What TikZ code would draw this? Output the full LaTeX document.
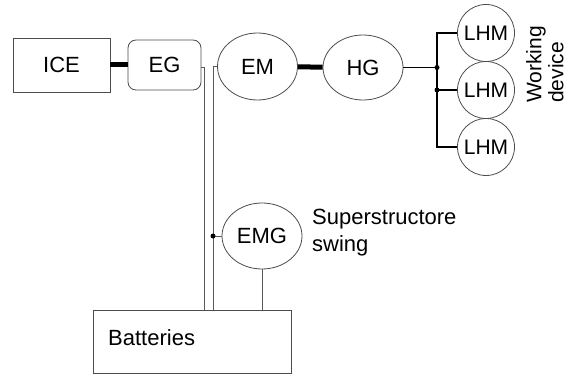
\documentclass[tikz,border=0pt]{standalone}
\usepackage{fontspec}
\setmainfont{Liberation Sans}
\usetikzlibrary{shapes.geometric}
\begin{document}
\begin{tikzpicture}[x=1pt,y=-1pt,
  every node/.style={font=\fontsize{22}{24}\selectfont},
  outl/.style={draw=black!70,line width=0.8pt},
  boxnode/.style={outl,rectangle,inner sep=0pt},
  ellnode/.style={outl,ellipse,inner sep=0pt},
  circnode/.style={outl,circle,inner sep=0pt,minimum size=57pt},
  thick link/.style={line width=5pt,black},
  wire/.style={draw=black!65,line width=0.9pt},
  bwire/.style={draw=black,line width=1.3pt},
  dotmark/.style={fill=black,circle,inner sep=0pt,minimum size=5pt}]
\useasboundingbox (0,0) rectangle (573,377);
\node[boxnode,minimum width=97pt,minimum height=54pt] (ICE) at (61.5,65) {ICE};
\node[boxnode,rounded corners=8pt,minimum width=73pt,minimum height=50pt] (EG) at (164.5,65) {EG};
\node[ellnode,minimum width=80pt,minimum height=67pt] (EM) at (257.5,66.5) {EM};
\node[ellnode,minimum width=80pt,minimum height=65pt] (HG) at (363,67.5) {HG};
\node[circnode,font=\fontsize{21}{24}\selectfont] (L1) at (486,33) {LHM};
\node[circnode,font=\fontsize{21}{24}\selectfont] (L2) at (486,90) {LHM};
\node[circnode,font=\fontsize{21}{24}\selectfont] (L3) at (486,147) {LHM};
\node[ellnode,minimum width=80pt,minimum height=66pt] (EMG) at (262,236) {EMG};
\node[boxnode,minimum width=198pt,minimum height=63pt] (Bat) at (192,341.5) {};
\node[anchor=base west,inner sep=0pt] (battxt) at (108,345) {Batteries};
\node[anchor=north west,inner sep=0pt,align=left,font=\fontsize{22}{27}\selectfont] (sup) at (312,209) {Superstructore\\swing};
\node[anchor=north west,inner sep=0pt,align=left,rotate=90,font=\fontsize{21}{22}\selectfont] (wd) at (526,103) {Working\\device};
% thick mechanical links
\draw[thick link] (ICE) -- (EG);
\draw[thick link] (EM) -- (HG);
% hydraulic lines
\coordinate (j1) at (437,67.5);
\coordinate (j2) at (j1 |- L2.west);
\draw[bwire] (HG.east) -- (j1);
\draw[bwire] (L1.west) -| (j1) |- (L3.west);
\draw[bwire] (j2) -- (L2.west);
\node[dotmark] (d1) at (j1) {};
\node[dotmark] (d2) at (j2) {};
% electrical lines
\coordinate (v1) at (204,310);
\coordinate (v2) at (213,310);
\draw[wire] ([yshift=-2pt]EG.east) -| (v1);
\draw[wire] (EM.west) -| (v2);
\coordinate (j3) at (EMG.west -| v2);
\draw[wire] (EMG.west) -- (j3);
\node[dotmark] (d3) at (j3) {};
\draw[wire] (EMG.south) -- (EMG.south |- Bat.north);
\end{tikzpicture}
\end{document}
